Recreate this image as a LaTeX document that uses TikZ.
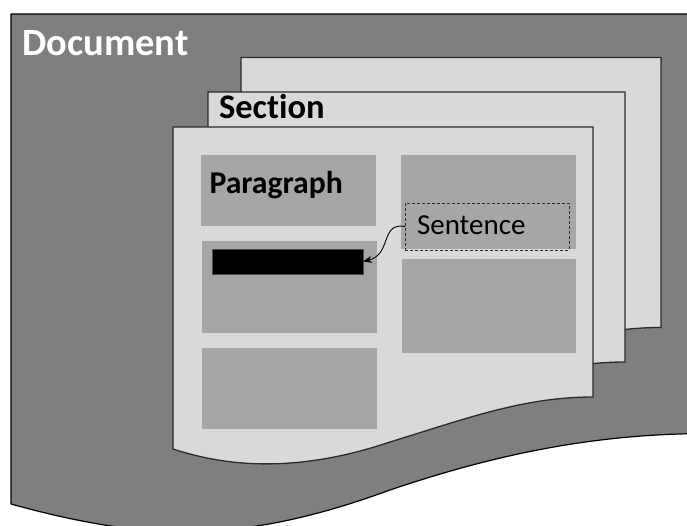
\documentclass[tikz,border=0pt]{standalone}
\usepackage{fontspec}
\setmainfont{Carlito}[Ligatures=NoCommon]
\usetikzlibrary{arrows.meta}
\definecolor{docgray}{HTML}{7F7F7F}
\definecolor{pagegray}{HTML}{D9D9D9}
\definecolor{boxgray}{HTML}{A6A6A6}
\definecolor{edgegray}{HTML}{2A2A2A}
\begin{document}
\begin{tikzpicture}[x=1pt,y=-1pt,
  docline/.style={draw=black,line width=1.2pt,line join=round},
  pageline/.style={draw=edgegray,line width=1.3pt,line join=miter},
  block/.style={fill=boxgray,draw=none,anchor=north west,inner sep=0pt,outer sep=0pt},
  dashedbox/.style={draw=edgegray,dash pattern=on 3pt off 2pt,line width=0.9pt,anchor=north west,inner sep=0pt,outer sep=0pt},
  barbox/.style={fill=black,draw=black!70,line width=0.6pt,anchor=north west,inner sep=0pt,outer sep=0pt},
  label/.style={anchor=base west,inner sep=0pt,outer sep=0pt},
  pics/sheet/.style={code={
    \draw[pageline,fill=pagegray] (0,0) -- (420,0) -- (420,270)
      .. controls (350,270) and (292,292) .. (217,315)
      .. controls (122,347) and (52,339) .. (0,322) -- cycle;
  }}]
\useasboundingbox (0,0) rectangle (687,525);
\clip (0,0) rectangle (687,525);

% outer document shape with wavy bottom
\draw[docline,fill=docgray] (11,14) -- (710,14) -- (710,433.5)
  .. controls (603,433.5) and (505,451) .. (390,490)
  .. controls (240,545) and (145,541) .. (11,504) -- cycle;
\node[label,text=white,font=\fontsize{38.5}{38.5}\selectfont\bfseries] (doctitle) at (22.5,55) {Document};

% stacked section pages
\pic at (241,57.5) {sheet};
\pic[xscale=0.993] at (208,92) {sheet};
\pic at (173,127) {sheet};
\node[label,font=\fontsize{34.5}{34.5}\selectfont\bfseries] (sectitle) at (219,118) {Section};

% paragraph blocks, left column
\node[block,minimum width=175pt,minimum height=71pt] (para1) at (201,155) {};
\node[block,minimum width=175pt,minimum height=92pt] (para2) at (202,241) {};
\node[block,minimum width=175pt,minimum height=81pt] (para3) at (202,348) {};
\node[label,font=\fontsize{31.7}{31.7}\selectfont\bfseries] (paratitle) at (209.5,193) {Paragraph};

% paragraph blocks, right column
\node[block,minimum width=175pt,minimum height=94pt] (para4) at (401,155) {};
\node[block,minimum width=174pt,minimum height=94pt] (para5) at (402,259) {};

% sentence and its highlighted counterpart
\node[dashedbox,minimum width=164pt,minimum height=47pt] (sentence) at (405,203) {};
\node[label,font=\fontsize{29}{29}\selectfont] (senttext) at (417,234) {Sentence};
\node[barbox,minimum width=151pt,minimum height=25pt] (bar) at (212,249) {};

\draw[-{Stealth[length=9pt,width=7pt]},line width=0.9pt,black]
  (sentence.west) .. controls +(-25,-4.5) and +(29,-7) .. (bar.east);
\end{tikzpicture}
\end{document}
